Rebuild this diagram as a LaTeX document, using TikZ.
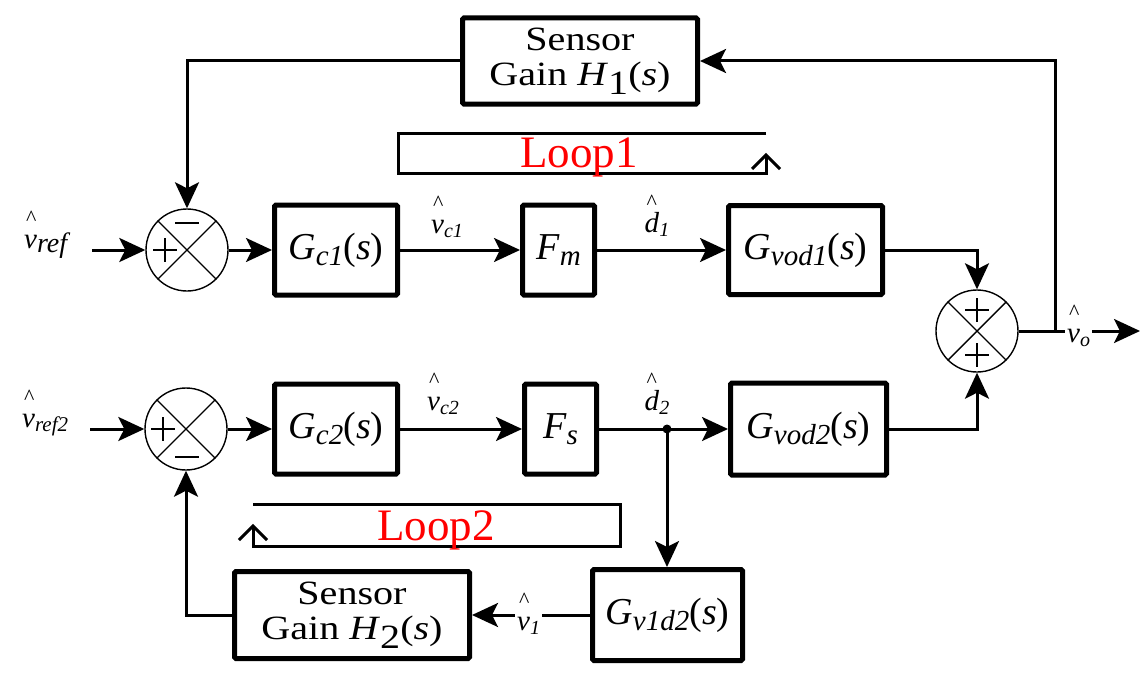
\documentclass[tikz,border=0pt]{standalone}
\usepackage{fontspec}
\setmainfont{Liberation Serif}
\newfontfamily\widefont[FakeStretch=1.18]{Liberation Serif}
\usetikzlibrary{arrows.meta}
\newcommand\hatted[2][2pt]{\leavevmode\rlap{\hspace{#1}\raisebox{23pt}{\fontsize{22}{22}\selectfont\textasciicircum}}#2}
\newcommand\sig[3][20]{\hatted{\textit{#2}}\raisebox{-4pt}{\fontsize{#1}{#1}\selectfont\textit{#3}}}
\newcommand\bsub[1]{\raisebox{-6pt}{\fontsize{29}{29}\selectfont\textit{#1}}}
\newcommand\tf[2]{\textit{#1}\bsub{#2}(\textit{s})}
\newcommand\plussign[3]{\draw[sgn] ([shift={(#2-12,#3)}]#1.center) -- ([shift={(#2+12,#3)}]#1.center) ([shift={(#2,#3-12)}]#1.center) -- ([shift={(#2,#3+12)}]#1.center);}
\newcommand\minussign[3]{\draw[sgn] ([shift={(#2-12,#3)}]#1.center) -- ([shift={(#2+12,#3)}]#1.center);}
\begin{document}
\begin{tikzpicture}[x=1pt,y=-1pt,
  blk/.style={draw,line width=5pt,rounded corners=1.5pt,inner sep=0pt,font=\fontsize{38}{40}\selectfont},
  sens/.style={blk,align=center,font=\widefont\fontsize{34}{35}\selectfont},
  sumj/.style={draw,circle,line width=1.4pt,minimum size=82pt,inner sep=0pt},
  conn/.style={line width=3pt},
  arr/.style={conn,-{Stealth[length=26pt,width=24pt,inset=6pt]}},
  sgn/.style={line width=2.5pt},
  sig/.style={font=\fontsize{29}{30}\selectfont,inner sep=0pt},
  looplab/.style={text=red,font=\fontsize{45}{45}\selectfont,inner sep=0pt},
  looppath/.style={line width=3pt}]
\fill[white] (0,0) rectangle (1141,685);
\useasboundingbox (0,0) rectangle (1141,685);

% blocks
\node[sens,minimum width=235,minimum height=86] (H1) at (580,61) {Sensor\\Gain \textit{H}\raisebox{-9pt}{1}(\textit{s})};
\node[blk,minimum width=123,minimum height=90] (Gc1) at (336,250) {\tf{G}{c1}};
\node[blk,minimum width=72,minimum height=90] (Fm) at (558.5,250) {\textit{F}\bsub{m}};
\node[blk,minimum width=154,minimum height=89] (Gvod1) at (805.5,250) {\tf{G}{vod1}};
\node[blk,minimum width=123,minimum height=90] (Gc2) at (336,429) {\tf{G}{c2}};
\node[blk,minimum width=72,minimum height=90] (Fs) at (560.5,429) {\textit{F}\bsub{s}};
\node[blk,minimum width=156,minimum height=92] (Gvod2) at (808.5,429) {\tf{G}{vod2}};
\node[blk,minimum width=150,minimum height=91] (Gv) at (667.5,615) {\tf{G}{v1d2}};
\node[sens,minimum width=235,minimum height=87] (H2) at (352,615) {Sensor\\Gain \textit{H}\raisebox{-9pt}{2}(\textit{s})};

% summing junctions
\node[sumj] (S1) at (187,250) {};
\node[sumj] (S2) at (186,429) {};
\node[sumj] (S3) at (977,331) {};
\foreach \s in {S1,S2,S3} {\draw[line width=1.4pt] (\s.north east) -- (\s.south west) (\s.north west) -- (\s.south east);}
\plussign{S1}{-22}{0}
\minussign{S1}{0}{-27}
\plussign{S2}{-23}{0}
\minussign{S2}{1}{28}
\plussign{S3}{0}{-21}
\plussign{S3}{0}{24}

% coordinates
\coordinate (in1) at (92,250);
\coordinate (in2) at (90,429);
\coordinate (J) at (667,429);
\coordinate (B) at (1055,331);
\coordinate (out) at (1140,331);

% connectors
\draw[arr] (in1) -- (S1.west);
\draw[arr] (S1.east) -- (Gc1.west);
\draw[arr] (Gc1.east) -- (Fm.west);
\draw[arr] (Fm.east) -- (Gvod1.west);
\draw[arr] (Gvod1.east) -| (S3.north);
\draw[arr] (in2) -- (S2.west);
\draw[arr] (S2.east) -- (Gc2.west);
\draw[arr] (Gc2.east) -- (Fs.west);
\draw[arr] (Fs.east) -- (Gvod2.west);
\draw[arr] (Gvod2.east) -| (S3.south);
\draw[arr] (J) -- (J |- Gv.north);
\fill (J) circle (4.5pt);
\draw[arr] (Gv.west) -- (H2.east);
\draw[arr] (H2.west) -| (S2.south);
\draw[arr] (S3.east) -- (out);
\draw[arr] (B) |- (H1.east);
\draw[arr] (H1.west) -| (S1.north);

% signal labels
\node[sig,anchor=base west] (lref) at (24,248) {\sig[28]{v}{ref}};
\node[sig,anchor=base west] (lref2) at (22,427) {\sig[21]{v}{ref2}};
\node[sig,anchor=base] (lvc1) at (447,233) {\sig{v}{c1}};
\node[sig,anchor=base] (ld1) at (657,232) {\sig{d}{1}};
\node[sig,anchor=base] (lvc2) at (443,410) {\sig{v}{c2}};
\node[sig,anchor=base] (ld2) at (657,410) {\sig{d}{2}};
\node[sig,anchor=base west,fill=white,inner xsep=2pt] (lvo) at (1065,342) {\sig{v}{o}};
\node[sig,anchor=base west,fill=white,inner xsep=2pt] (lv1) at (515,630) {\sig{v}{1}};

% loops
\draw[looppath] (766,133) -- (398,133) -- (398,173) -- (766,173) -- (766,155);
\draw[looppath] (752,169) -- (766,155) -- (780,169);
\node[looplab,anchor=base] (loop1) at (579,167) {Loop1};
\draw[looppath] (253,504) -- (620,504) -- (620,546) -- (253,546) -- (253,526);
\draw[looppath] (239,540) -- (253,526) -- (267,540);
\node[looplab,anchor=base] (loop2) at (436,540) {Loop2};
\end{tikzpicture}
\end{document}
